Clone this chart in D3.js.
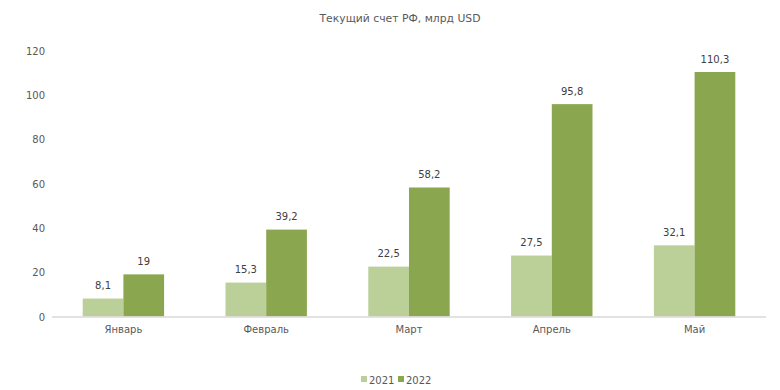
<!DOCTYPE html>
<html>
<head>
<meta charset="utf-8">
<script src="https://cdn.jsdelivr.net/npm/d3@7"></script>
<style>
  body { margin: 0; background: #fff; }
  text { font-family: "DejaVu Sans", Verdana, sans-serif; fill: #595959; }
</style>
</head>
<body>
<script>
// data
var months = ["Январь", "Февраль", "Март", "Апрель", "Май"];
var seriesNames = ["2021", "2022"];
var values2021 = [8.1, 15.3, 22.5, 27.5, 32.1];
var values2022 = [19, 39.2, 58.2, 95.8, 110.3];
var yTicks = [0, 20, 40, 60, 80, 100, 120];

var W = 780, H = 390;
var COLORS = ["#bbcf98", "#8aa64e"];

var svg = d3.select("body").append("svg")
    .attr("width", W)
    .attr("height", H);

var x0 = d3.scaleBand().domain(months).range([52, 766]).paddingInner(0.43).paddingOuter(0.215);
var x1 = d3.scaleBand().domain(seriesNames).range([0, x0.bandwidth()]);
var y = d3.scaleLinear().domain([0, 120]).range([316.5, 50.5]);

// title
svg.append("text")
    .attr("x", 400).attr("y", 22)
    .attr("text-anchor", "middle")
    .style("font-size", "10.8px")
    .text("Текущий счет РФ, млрд USD");

// y axis (no line)
var yAxis = svg.append("g")
    .attr("transform", "translate(45,0)")
    .call(d3.axisLeft(y).tickValues(yTicks).tickSize(0).tickPadding(0));
yAxis.select(".domain").remove();
yAxis.selectAll("text").style("font-size", "10px").style("fill", "#595959").attr("dy", "0.35em");

var rows = months.map(function(m, i) {
    return { month: m, vals: [values2021[i], values2022[i]] };
});

var groups = svg.selectAll(".grp")
    .data(rows)
    .enter().append("g")
    .attr("class", "grp")
    .attr("transform", function(d) { return "translate(" + x0(d.month) + ",0)"; });

groups.selectAll("rect")
    .data(function(d) { return d.vals.map(function(v, j) { return { s: seriesNames[j], v: v, j: j }; }); })
    .enter().append("rect")
    .attr("x", function(d) { return x1(d.s); })
    .attr("y", function(d) { return y(d.v); })
    .attr("width", x1.bandwidth())
    .attr("height", function(d) { return y(0) - y(d.v); })
    .style("fill", function(d) { return COLORS[d.j]; });

groups.selectAll(".lbl")
    .data(function(d) { return d.vals.map(function(v, j) { return { s: seriesNames[j], v: v }; }); })
    .enter().append("text")
    .attr("class", "lbl")
    .attr("x", function(d) { return x1(d.s) + x1.bandwidth() / 2; })
    .attr("y", function(d) { return y(d.v) - 9.5; })
    .attr("text-anchor", "middle")
    .style("font-size", "10px")
    .style("fill", "#404040")
    .text(function(d) { return String(d.v).replace(".", ","); });

// x axis
var xAxis = svg.append("g")
    .attr("transform", "translate(0," + y(0) + ")")
    .call(d3.axisBottom(x0).tickSize(0).tickPadding(9));
xAxis.select(".domain").attr("d", "M52,0.5H766").style("stroke", "#d9d9d9").style("stroke-width", 1.5);
xAxis.selectAll("text").style("font-size", "10px").style("fill", "#595959");

// legend
var legend = svg.append("g").attr("transform", "translate(361,380)");
var li = legend.selectAll(".li")
    .data(seriesNames)
    .enter().append("g")
    .attr("class", "li")
    .attr("transform", function(d, i) { return "translate(" + (i * 37) + ",0)"; });
li.append("rect")
    .attr("x", 0).attr("y", -4)
    .attr("width", 6).attr("height", 6)
    .style("fill", function(d, i) { return COLORS[i]; });
li.append("text")
    .attr("x", 8).attr("y", 0)
    .attr("dy", "0.35em")
    .style("font-size", "10px")
    .text(function(d) { return d; });
</script>
</body>
</html>
